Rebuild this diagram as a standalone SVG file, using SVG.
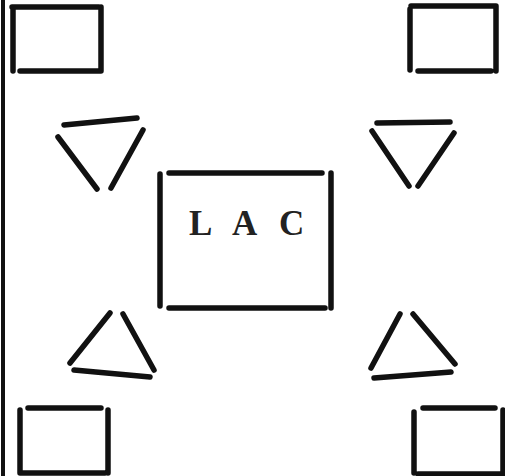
<svg xmlns="http://www.w3.org/2000/svg" width="505" height="476" viewBox="0 0 505 476">
<style>
.s{fill:none;stroke:#111;stroke-width:5.5;stroke-linecap:round;stroke-linejoin:round}
.t{font-family:"Liberation Serif",serif;font-weight:bold;font-size:35px;fill:#222}
</style>
<rect width="505" height="476" fill="#fff"/>
<g id="connectors">
<line class="s" x1="3" y1="0" x2="3" y2="476" style="stroke-width:4"/>
</g>
<g id="sq-tl"><path class="s" d="M13 8 V71 M12 7 H99 M101 7 V71 M20 71 H100"/></g>
<g id="sq-tr"><path class="s" d="M410 9 V70 M411 6 H496 M496 6 V71 M418 71 H491"/></g>
<g id="sq-bl"><path class="s" d="M20 410 V473 M28 408 H101 M108 410 V473 M22 473 H105"/></g>
<g id="sq-br"><path class="s" d="M414 412 V473 M423 408 H495 M503 410 V476 M418 474 H503"/></g>
<g id="tri-tl"><path class="s" d="M64 125 L137 118 M58 137 L97 189 M143 130 L111 188"/></g>
<g id="tri-tr"><path class="s" d="M377 123 L450 122 M372 131 L409 186 M454 133 L418 186"/></g>
<g id="tri-bl"><path class="s" d="M70 363 L110 313 M123 314 L154 370 M74 370 L150 377"/></g>
<g id="tri-br"><path class="s" d="M371 368 L400 314 M413 314 L455 364 M374 378 L451 372"/></g>
<g id="lac">
<path class="s" d="M160 174 V306 M331 173 V308 M169 173 H322 M169 308 H325"/>
<text class="t" x="189" y="235">L</text>
<text class="t" x="232" y="235">A</text>
<text class="t" x="279" y="235">C</text>
</g>
</svg>
